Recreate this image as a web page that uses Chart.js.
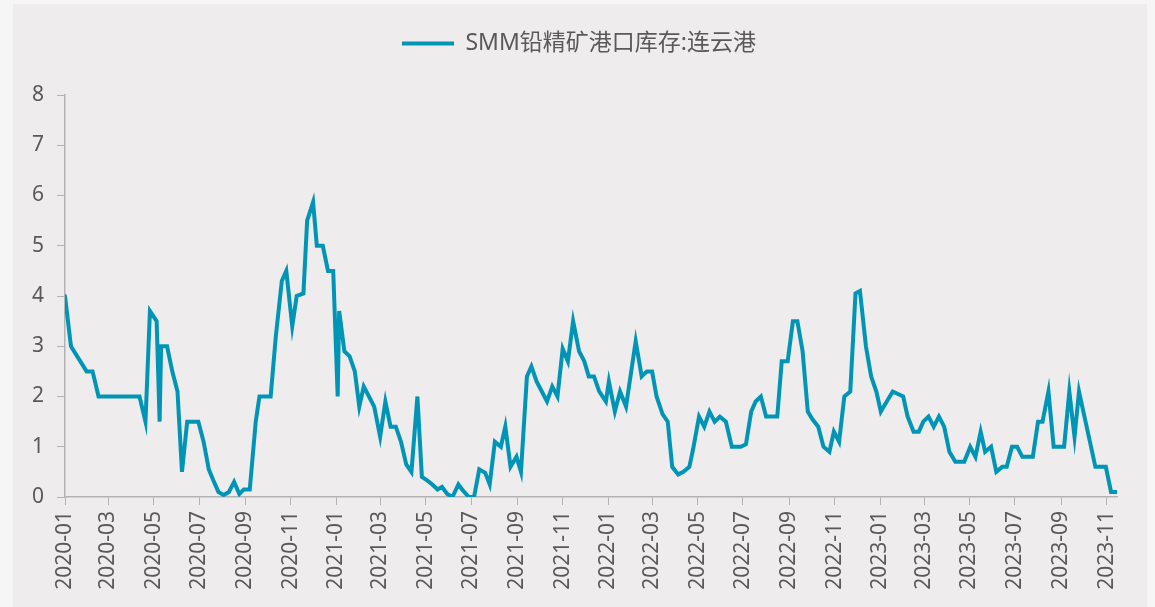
<!DOCTYPE html>
<html>
<head>
<meta charset="utf-8">
<script src="https://cdn.jsdelivr.net/npm/chart.js@4.4.1/dist/chart.umd.min.js"></script>
<style>
  html, body { margin: 0; padding: 0; background: #f6f6f6; }
  #panel { position: absolute; left: 13px; top: 4px; width: 1134px; height: 603px; background: #eeeced; }
</style>
</head>
<body>
<div id="panel"><canvas id="chart" width="1134" height="603"></canvas></div>
<script>
const seriesName = 'SMM铅精矿港口库存:连云港'

const dates = [
  '2020-01-03', '2020-01-11', '2020-02-01', '2020-02-09', '2020-02-17', '2020-04-12', '2020-04-20', '2020-04-26',
  '2020-05-05', '2020-05-09', '2020-05-11', '2020-05-19', '2020-05-26', '2020-06-02', '2020-06-08', '2020-06-15',
  '2020-06-30', '2020-07-07', '2020-07-14', '2020-07-21', '2020-07-27', '2020-08-03', '2020-08-10', '2020-08-17',
  '2020-08-24', '2020-08-30', '2020-09-07', '2020-09-15', '2020-09-20', '2020-10-05', '2020-10-12', '2020-10-20',
  '2020-10-26', '2020-11-03', '2020-11-09', '2020-11-18', '2020-11-23', '2020-12-01', '2020-12-06', '2020-12-14',
  '2020-12-21', '2020-12-28', '2021-01-03', '2021-01-05', '2021-01-12', '2021-01-19', '2021-01-26', '2021-02-01',
  '2021-02-07', '2021-02-14', '2021-02-21', '2021-03-01', '2021-03-08', '2021-03-15', '2021-03-22', '2021-03-29',
  '2021-04-05', '2021-04-12', '2021-04-20', '2021-04-26', '2021-05-03', '2021-05-10', '2021-05-17', '2021-05-23',
  '2021-05-30', '2021-06-06', '2021-06-14', '2021-06-20', '2021-06-28', '2021-07-05', '2021-07-12', '2021-07-20',
  '2021-07-26', '2021-08-02', '2021-08-10', '2021-08-16', '2021-08-23', '2021-08-31', '2021-09-06', '2021-09-14',
  '2021-09-20', '2021-09-27', '2021-10-04', '2021-10-11', '2021-10-18', '2021-10-25', '2021-11-01', '2021-11-08',
  '2021-11-15', '2021-11-23', '2021-11-30', '2021-12-06', '2021-12-13', '2021-12-20', '2021-12-29', '2022-01-02',
  '2022-01-10', '2022-01-17', '2022-01-25', '2022-02-07', '2022-02-15', '2022-02-22', '2022-03-01', '2022-03-07',
  '2022-03-15', '2022-03-22', '2022-03-28', '2022-04-05', '2022-04-12', '2022-04-20', '2022-04-25', '2022-05-03',
  '2022-05-10', '2022-05-17', '2022-05-24', '2022-05-31', '2022-06-08', '2022-06-16', '2022-06-28', '2022-07-05',
  '2022-07-12', '2022-07-18', '2022-07-25', '2022-08-01', '2022-08-16', '2022-08-22', '2022-08-30', '2022-09-06',
  '2022-09-12', '2022-09-19', '2022-09-26', '2022-10-02', '2022-10-10', '2022-10-17', '2022-10-25', '2022-10-31',
  '2022-11-07', '2022-11-14', '2022-11-22', '2022-11-29', '2022-12-05', '2022-12-13', '2022-12-20', '2022-12-27',
  '2023-01-02', '2023-01-10', '2023-01-18', '2023-01-25', '2023-02-01', '2023-02-07', '2023-02-15', '2023-02-22',
  '2023-02-28', '2023-03-07', '2023-03-14', '2023-03-21', '2023-03-28', '2023-04-04', '2023-04-12', '2023-04-24',
  '2023-05-02', '2023-05-09', '2023-05-16', '2023-05-22', '2023-05-30', '2023-06-06', '2023-06-14', '2023-06-20',
  '2023-06-27', '2023-07-04', '2023-07-11', '2023-07-25', '2023-08-01', '2023-08-07', '2023-08-15', '2023-08-22',
  '2023-09-05', '2023-09-12', '2023-09-19', '2023-09-25', '2023-10-17', '2023-10-31', '2023-11-07', '2023-11-15'
]

const values = [
  4.0, 3.0, 2.5, 2.5, 2.0, 2.0, 1.5, 3.7,
  3.5, 1.5, 3.0, 3.0, 2.5, 2.1, 0.5, 1.5,
  1.5, 1.1, 0.55, 0.3, 0.1, 0.04, 0.1, 0.3,
  0.06, 0.15, 0.15, 1.5, 2.0, 2.0, 3.2, 4.3,
  4.5, 3.4, 4.0, 4.05, 5.5, 5.87, 5.0, 5.0,
  4.5, 4.5, 2.0, 3.7, 2.9, 2.8, 2.5, 1.8,
  2.2, 2.0, 1.8, 1.2, 1.9, 1.4, 1.4, 1.1,
  0.65, 0.5, 2.0, 0.4, 0.33, 0.25, 0.15, 0.2,
  0.06, 0.0, 0.25, 0.13, 0.0, 0.0, 0.55, 0.48,
  0.25, 1.1, 1.0, 1.4, 0.6, 0.8, 0.5, 2.4,
  2.6, 2.3, 2.1, 1.9, 2.2, 2.0, 2.95, 2.7,
  3.5, 2.9, 2.7, 2.4, 2.4, 2.1, 1.9, 2.3,
  1.7, 2.1, 1.8, 3.1, 2.4, 2.5, 2.5, 2.0,
  1.65, 1.5, 0.6, 0.45, 0.5, 0.6, 0.95, 1.6,
  1.4, 1.7, 1.5, 1.6, 1.5, 1.0, 1.0, 1.05,
  1.7, 1.9, 2.0, 1.6, 1.6, 2.7, 2.7, 3.5,
  3.5, 2.9, 1.7, 1.55, 1.4, 1.0, 0.9, 1.3,
  1.1, 2.0, 2.1, 4.05, 4.1, 3.0, 2.4, 2.1,
  1.7, 1.9, 2.1, 2.05, 2.0, 1.6, 1.3, 1.3,
  1.5, 1.6, 1.4, 1.6, 1.4, 0.9, 0.7, 0.7,
  1.0, 0.8, 1.3, 0.9, 1.0, 0.5, 0.6, 0.6,
  1.0, 1.0, 0.8, 0.8, 1.5, 1.5, 2.1, 1.0,
  1.0, 2.1, 1.2, 2.1, 0.6, 0.6, 0.1, 0.1
]

const tickLabels = [
  '2020-01', '2020-03', '2020-05', '2020-07', '2020-09', '2020-11',
  '2021-01', '2021-03', '2021-05', '2021-07', '2021-09', '2021-11',
  '2022-01', '2022-03', '2022-05', '2022-07', '2022-09', '2022-11',
  '2023-01', '2023-03', '2023-05', '2023-07', '2023-09', '2023-11'
]

// day number counted from 2020-01-01
const t0 = Date.UTC(2020, 0, 1)
function toDay(s) {
  const [y, m, d] = s.split('-').map(Number)
  return (Date.UTC(y, m - 1, d || 1) - t0) / 86400000
}

const points = dates.map((d, i) => ({ x: toDay(d), y: values[i] }))
const xMin = points[0].x
const xMax = points[points.length - 1].x

const axisColor = '#b3b3b3'
const textColor = '#595959'
const fontFamily = '"Noto Sans", "Noto Sans CJK SC", sans-serif'

// extra room under the legend, and nudge it a bit to the right
const legendTweak = {
  id: 'legendTweak',
  beforeInit(chart) {
    const legend = chart.legend
    const fit = legend.fit
    legend.fit = function () {
      fit.call(this)
      this.height += 30
    }
    const draw = legend.draw
    legend.draw = function () {
      this.ctx.save()
      this.ctx.translate(14, 0)
      draw.call(this)
      this.ctx.restore()
    }
  }
}

const ctx = document.getElementById('chart').getContext('2d')
new Chart(ctx, {
  type: 'line',
  data: {
    datasets: [{
      label: seriesName,
      data: points,
      borderColor: '#0095b6',
      backgroundColor: '#0095b6',
      borderWidth: 4,
      borderCapStyle: 'round',
      borderJoinStyle: 'miter',
      pointRadius: 0,
      tension: 0
    }]
  },
  plugins: [legendTweak],
  options: {
    responsive: false,
    animation: false,
    layout: { padding: { left: 0, right: 30, top: 18, bottom: 0 } },
    plugins: {
      legend: {
        display: true,
        position: 'top',
        labels: {
          usePointStyle: true,
          pointStyle: 'line',
          pointStyleWidth: 52,
          color: textColor,
          padding: 10,
          font: { family: fontFamily, size: 23 }
        }
      },
      tooltip: { enabled: false }
    },
    scales: {
      x: {
        type: 'linear',
        min: xMin,
        max: xMax,
        afterBuildTicks: (scale) => {
          scale.ticks = tickLabels.map(m => ({ value: Math.max(toDay(m), xMin) }))
        },
        afterFit: (scale) => { scale.height = 110 },
        grid: { display: true, drawOnChartArea: false, drawTicks: true, tickLength: 8, color: axisColor },
        border: { display: true, color: axisColor, width: 1.5 },
        ticks: {
          autoSkip: false,
          minRotation: 90,
          maxRotation: 90,
          padding: 6,
          color: textColor,
          font: { family: fontFamily, size: 21 },
          callback: (value, index) => tickLabels[index]
        }
      },
      y: {
        min: 0,
        max: 8,
        afterFit: (scale) => { scale.width = 52 },
        grid: { display: true, drawOnChartArea: false, drawTicks: true, tickLength: 8, color: axisColor },
        border: { display: true, color: axisColor, width: 1.5 },
        ticks: {
          stepSize: 1,
          padding: 13,
          color: textColor,
          font: { family: fontFamily, size: 21 }
        }
      }
    }
  }
})
</script>
</body>
</html>
